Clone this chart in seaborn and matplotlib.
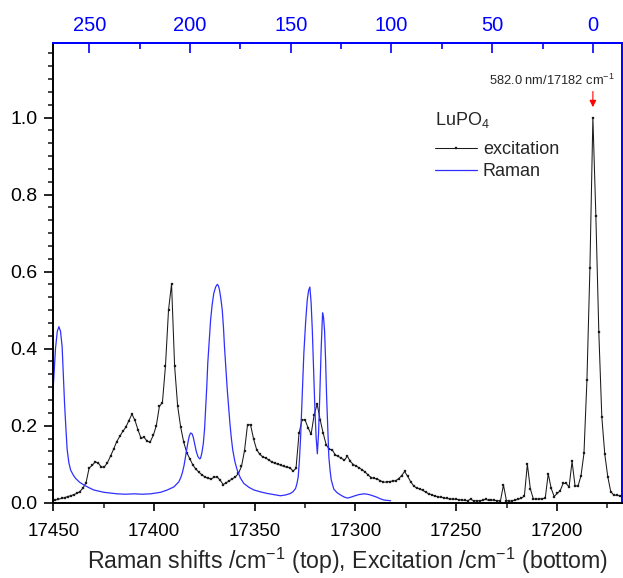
import matplotlib
matplotlib.use("Agg")
import matplotlib.pyplot as plt
from matplotlib.ticker import FixedLocator, AutoMinorLocator, FormatStrFormatter
import seaborn as sns
import pandas as pd
import numpy as np

# excitation scan, 0.05 nm steps (573.05 ... 582.50 nm)
wavelength_nm = np.round(np.arange(573.05, 582.501, 0.05), 2)
excitation = [
    0.004, 0.007, 0.009, 0.011, 0.013, 0.016, 0.018, 0.021, 0.024, 0.029,
    0.038, 0.052, 0.090, 0.097, 0.106, 0.103, 0.092, 0.093, 0.104, 0.121,
    0.139, 0.158, 0.172, 0.185, 0.196, 0.213, 0.230, 0.214, 0.189, 0.167,
    0.170, 0.159, 0.158, 0.175, 0.200, 0.250, 0.260, 0.355, 0.500, 0.568,
    0.355, 0.251, 0.196, 0.157, 0.130, 0.114, 0.098, 0.087, 0.079, 0.072,
    0.067, 0.063, 0.062, 0.066, 0.067, 0.058, 0.047, 0.052, 0.057, 0.062,
    0.067, 0.076, 0.094, 0.135, 0.203, 0.202, 0.165, 0.138, 0.126, 0.119,
    0.116, 0.111, 0.106, 0.102, 0.100, 0.097, 0.094, 0.092, 0.091, 0.082,
    0.089, 0.180, 0.215, 0.215, 0.194, 0.178, 0.228, 0.256, 0.215, 0.180,
    0.150, 0.139, 0.137, 0.124, 0.120, 0.116, 0.110, 0.121, 0.107, 0.099,
    0.095, 0.090, 0.085, 0.079, 0.071, 0.065, 0.063, 0.061, 0.057, 0.053,
    0.054, 0.055, 0.056, 0.057, 0.062, 0.070, 0.081, 0.069, 0.055, 0.044,
    0.038, 0.036, 0.032, 0.028, 0.023, 0.021, 0.017, 0.016, 0.014, 0.013,
    0.011, 0.010, 0.009, 0.009, 0.008, 0.007, 0.006, 0.005, 0.009, 0.005,
    0.005, 0.005, 0.006, 0.009, 0.006, 0.007, 0.006, 0.005, 0.005, 0.046,
    0.005, 0.004, 0.005, 0.007, 0.009, 0.012, 0.017, 0.100, 0.036, 0.010,
    0.009, 0.010, 0.010, 0.012, 0.075, 0.037, 0.016, 0.024, 0.031, 0.050,
    0.050, 0.041, 0.107, 0.044, 0.043, 0.070, 0.128, 0.319, 0.609, 1.000,
    0.745, 0.442, 0.223, 0.126, 0.068, 0.029, 0.020, 0.019, 0.018, 0.018,
]

# Raman spectrum, shift in cm-1 relative to the 582.0 nm line
raman_shift = [
    269.0, 267.9, 266.8, 265.9, 265.1, 264.3, 263.5, 262.9, 262.3, 261.6,
    261.0, 260.2, 259.3, 258.0, 256.8, 254.8, 252.7, 250.2, 247.8, 245.3,
    242.8, 239.5, 236.2, 232.0, 227.9, 223.7, 219.6, 217.0, 214.6, 211.3,
    208.0, 205.6, 204.7, 203.9, 203.0, 202.2, 201.1, 200.4, 199.7, 199.0,
    198.4, 197.6, 196.9, 196.1, 195.3, 194.8, 194.1, 193.4, 192.8, 192.3,
    191.7, 191.2, 190.5, 189.8, 189.0, 188.2, 187.3, 186.5, 185.9, 185.4,
    184.7, 184.0, 183.4, 182.9, 182.2, 181.5, 180.8, 180.2, 179.5, 178.8,
    177.7, 176.6, 175.0, 173.3, 170.8, 168.3, 165.0, 161.7, 158.4, 155.1,
    152.6, 150.1, 148.8, 147.6, 146.9, 146.3, 145.7, 145.1, 144.3, 143.5,
    142.6, 141.8, 141.1, 140.5, 139.9, 139.3, 138.6, 138.0, 137.4, 136.8,
    136.2, 135.6, 134.9, 134.2, 133.7, 133.2, 132.7, 132.2, 131.6, 131.1,
    130.5, 129.9, 128.6, 127.0, 125.3, 123.6, 121.9, 120.3, 118.7, 116.2,
    113.7, 112.0, 110.4, 108.7, 107.1, 105.5, 103.8, 102.1, 100.4,
]
raman = [
    0.220, 0.300, 0.400, 0.445, 0.457, 0.445, 0.405, 0.330, 0.258, 0.190,
    0.138, 0.105, 0.085, 0.072, 0.063, 0.053, 0.046, 0.039, 0.033, 0.030,
    0.027, 0.025, 0.023, 0.022, 0.023, 0.022, 0.023, 0.025, 0.027, 0.033,
    0.041, 0.054, 0.064, 0.076, 0.096, 0.120, 0.155, 0.173, 0.181, 0.179,
    0.170, 0.150, 0.133, 0.120, 0.114, 0.115, 0.130, 0.154, 0.190, 0.241,
    0.300, 0.362, 0.420, 0.474, 0.515, 0.544, 0.560, 0.567, 0.563, 0.553,
    0.530, 0.500, 0.455, 0.405, 0.350, 0.292, 0.245, 0.206, 0.168, 0.137,
    0.106, 0.085, 0.064, 0.050, 0.040, 0.033, 0.028, 0.024, 0.021, 0.018,
    0.020, 0.024, 0.029, 0.037, 0.050, 0.067, 0.110, 0.171, 0.280, 0.388,
    0.470, 0.527, 0.552, 0.560, 0.520, 0.449, 0.340, 0.241, 0.170, 0.127,
    0.180, 0.276, 0.400, 0.493, 0.480, 0.445, 0.370, 0.276, 0.190, 0.120,
    0.085, 0.059, 0.035, 0.026, 0.020, 0.015, 0.012, 0.014, 0.017, 0.021,
    0.023, 0.022, 0.020, 0.017, 0.014, 0.010, 0.007, 0.006, 0.005,
]

laser_line = 17182.13  # 582.0 nm
bottom_ticks = [17450, 17400, 17350, 17300, 17250, 17200]
bottom_minor = [17425, 17375, 17325, 17275, 17225, 17175]
top_ticks = [250, 200, 150, 100, 50, 0]
top_minor = [225, 175, 125, 75, 25]

exc_df = pd.DataFrame({"wavenumber": 1e7 / wavelength_nm, "intensity": excitation})
ram_df = pd.DataFrame({"wavenumber": laser_line + np.array(raman_shift), "intensity": raman})

sns.set_style("ticks")
plt.rcParams["font.family"] = ["Liberation Sans", "DejaVu Sans"]
plt.rcParams["mathtext.default"] = "regular"

fig = plt.figure(figsize=(6.23, 5.78), dpi=100)
ax = fig.add_axes([0.0856, 0.1303, 0.9124, 0.7948])

sns.lineplot(data=exc_df, x="wavenumber", y="intensity", ax=ax, color="#1a1a1a",
             lw=0.75, marker="s", markersize=2.1, markeredgecolor="#1a1a1a",
             markeredgewidth=0.2, label="excitation")
sns.lineplot(data=ram_df, x="wavenumber", y="intensity", ax=ax, color="#2f2fff",
             lw=0.9, label="Raman")

ax.set_xlim(17450, 17167.8)
ax.set_ylim(0, 1.193)
ax.xaxis.set_major_locator(FixedLocator(bottom_ticks))
ax.xaxis.set_minor_locator(FixedLocator(bottom_minor))
ax.yaxis.set_major_locator(FixedLocator([0.0, 0.2, 0.4, 0.6, 0.8, 1.0]))
ax.yaxis.set_minor_locator(AutoMinorLocator(6))
ax.xaxis.set_major_formatter(FormatStrFormatter("%d"))
ax.yaxis.set_major_formatter(FormatStrFormatter("%.1f"))
ax.tick_params(axis="x", which="major", direction="out", length=5.8, width=1.2, labelsize=13.5, pad=8.7)
ax.tick_params(axis="y", which="major", direction="out", length=6.5, width=1.2, labelsize=14, pad=5)
ax.tick_params(which="minor", direction="out", length=3.4, width=1.2)
ax.tick_params(top=False, right=False, colors="black")
for s in ["left", "bottom"]:
    ax.spines[s].set_linewidth(1.4)
    ax.spines[s].set_color("black")
for s in ["top", "right"]:
    ax.spines[s].set_linewidth(1.4)
    ax.spines[s].set_color("blue")

# top axis: Raman shift
secax = ax.secondary_xaxis("top", functions=(lambda e: e - laser_line, lambda r: r + laser_line))
secax.xaxis.set_major_locator(FixedLocator(top_ticks))
secax.xaxis.set_minor_locator(FixedLocator(top_minor))
secax.xaxis.set_major_formatter(FormatStrFormatter("%d"))
secax.tick_params(which="major", direction="in", length=7.2, width=1.2, colors="blue", labelsize=14.5, pad=6)
secax.tick_params(which="minor", direction="in", length=4.3, width=1.2, colors="blue")
secax.spines["top"].set_color("blue")
secax.spines["top"].set_linewidth(1.4)

ax.set_xlabel("Raman shifts /cm$^{-1}$ (top), Excitation /cm$^{-1}$ (bottom)", fontsize=16.7, labelpad=4.5)
ax.xaxis.label.set_x(0.5176)
ax.set_ylabel("")

ax.legend(frameon=False, fontsize=13, loc="upper left",
          bbox_to_anchor=(435 / 623, 1 - 141 / 578),
          bbox_transform=fig.transFigure, borderpad=0, borderaxespad=0,
          handlelength=2.3, handletextpad=0.35, labelspacing=0.3)
fig.text(435 / 623, 1 - 120 / 578, "LuPO$_4$", fontsize=13, ha="left", va="center")

ax.annotate("", xy=(laser_line, 1.02), xytext=(laser_line, 1.075),
            arrowprops=dict(arrowstyle="-|>", color="red", lw=0.8, mutation_scale=10))
ax.text(17202.4, 1.097, "582.0 nm/17182 cm$^{-1}$", fontsize=9.3, ha="center", va="center")

fig.savefig("out.png", dpi=100)
